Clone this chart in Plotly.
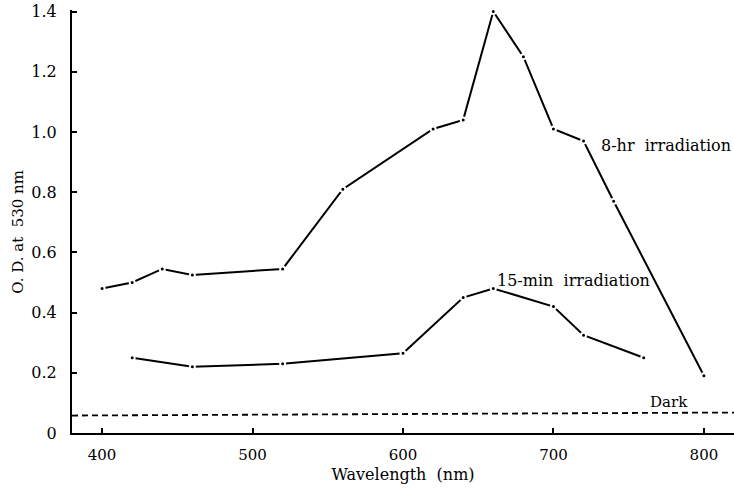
import plotly.graph_objects as go

# Absorbance (O.D. at 530 nm) versus irradiation wavelength
wl_8hr = [400, 420, 440, 460, 520, 560, 620, 640, 660, 680, 700, 720, 740, 800]
od_8hr = [0.48, 0.50, 0.545, 0.525, 0.545, 0.81, 1.01, 1.04, 1.40, 1.25, 1.01, 0.97, 0.77, 0.19]

wl_15min = [420, 460, 520, 600, 640, 660, 700, 720, 760]
od_15min = [0.25, 0.22, 0.23, 0.265, 0.45, 0.48, 0.42, 0.325, 0.25]

wl_dark = [380, 820]
od_dark = [0.058, 0.068]

x_ticks = [400, 500, 600, 700, 800]
y_ticks = [0, 0.2, 0.4, 0.6, 0.8, 1.0, 1.2, 1.4]
y_ticktext = ["0", "0.2", "0.4", "0.6", "0.8", "1.0", "1.2", "1.4"]

FONT = "DejaVu Serif, Liberation Serif, serif"

fig = go.Figure()

point_style = dict(size=5, color="black", line=dict(color="white", width=2))

fig.add_trace(go.Scatter(
    x=wl_8hr, y=od_8hr, mode="lines+markers",
    line=dict(color="black", width=2), marker=point_style,
    name="8-hr irradiation", cliponaxis=False,
))
fig.add_trace(go.Scatter(
    x=wl_15min, y=od_15min, mode="lines+markers",
    line=dict(color="black", width=2), marker=point_style,
    name="15-min irradiation", cliponaxis=False,
))
fig.add_trace(go.Scatter(
    x=wl_dark, y=od_dark, mode="lines",
    line=dict(color="black", width=1.8, dash="6px,4px"),
    name="Dark",
))

label_font = dict(family=FONT, size=16, color="black")
fig.add_annotation(x=730, y=0.955, text="8-hr  irradiation", showarrow=False,
                   xanchor="left", yanchor="middle", font=label_font)
fig.add_annotation(x=661, y=0.505, text="15-min  irradiation", showarrow=False,
                   xanchor="left", yanchor="middle", font=label_font)
fig.add_annotation(x=763, y=0.103, text="Dark", showarrow=False,
                   xanchor="left", yanchor="middle",
                   font=dict(family=FONT, size=15, color="black"))

# y-axis title placed as a rotated paper-space label
fig.add_annotation(xref="paper", yref="paper", x=-0.082, y=0.475,
                   text="O. D. at  530 nm", textangle=-90, showarrow=False,
                   xanchor="center", yanchor="middle",
                   font=dict(family=FONT, size=15, color="black"))

fig.update_layout(
    width=734, height=489,
    margin=dict(l=72, r=0, t=10, b=56),
    paper_bgcolor="white", plot_bgcolor="white",
    showlegend=False,
    font=dict(family=FONT, size=15, color="black"),
    xaxis=dict(
        range=[380, 820], tickvals=x_ticks,
        ticks="inside", ticklen=5, tickwidth=1.5, tickcolor="black",
        showline=True, linecolor="black", linewidth=2,
        showgrid=False, zeroline=False, ticklabelstandoff=7,
        tickfont=dict(family=FONT, size=15, color="black"),
        title=dict(text="Wavelength  (nm)",
                   font=dict(family=FONT, size=16, color="black"), standoff=6),
    ),
    yaxis=dict(
        range=[0, 1.405], tickvals=y_ticks, ticktext=y_ticktext,
        ticks="inside", ticklen=5, tickwidth=1.5, tickcolor="black",
        showline=True, linecolor="black", linewidth=2,
        showgrid=False, zeroline=False, ticklabelstandoff=10,
        tickfont=dict(family=FONT, size=16, color="black"),
    ),
)

fig.write_html("out.html")
